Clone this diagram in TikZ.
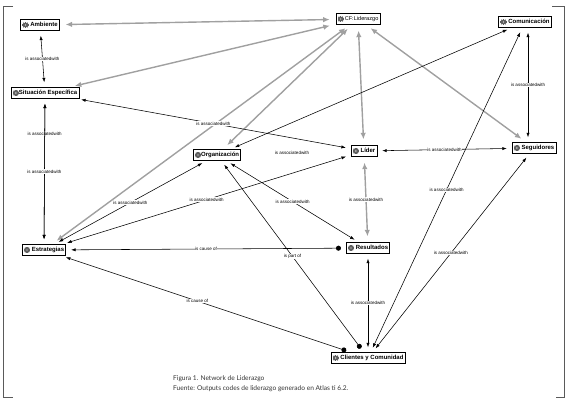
\documentclass[tikz,border=0pt]{standalone}
\usepackage{fontspec}
\setmainfont{Liberation Sans}
\newfontfamily\capfont{Lato}
\usetikzlibrary{arrows.meta}
\definecolor{framegray}{RGB}{90,90,90}
\definecolor{linkgray}{RGB}{160,160,160}
\definecolor{geargray}{RGB}{95,95,95}
% small gear drawn in front of every code
\newcommand{\gearicon}{\tikz[baseline=-1.9pt]{%
  \fill[geargray] (0pt,0pt) circle (2.3pt);
  \foreach \a in {0,45,...,315}
    \fill[geargray, rotate=\a] (-0.7pt,1.6pt) rectangle (0.7pt,3.1pt);
  \fill[white] (0pt,0pt) circle (0.7pt);}}
\tikzset{
  codebox/.style={draw, line width=0.7pt, fill=white, inner xsep=1.6pt, inner ysep=2.2pt,
    font=\fontsize{6}{7}\selectfont\bfseries},
  lbl/.style={fill=white, inner sep=0.6pt, font=\fontsize{4.5}{5}\selectfont},
  blk/.style={draw=black, line width=0.55pt, shorten <=5pt, shorten >=5pt,
    {Latex[length=4.5pt,width=3.2pt]}-{Latex[length=4.5pt,width=3.2pt]}},
  gry/.style={draw=linkgray, line width=1.4pt, shorten <=6pt, shorten >=6pt,
    {Latex[length=6.5pt,width=5.5pt]}-{Latex[length=6.5pt,width=5.5pt]}},
  cause/.style={draw=black, line width=0.55pt, shorten <=5pt, shorten >=5pt,
    {Circle[length=5pt]}-{Latex[length=4.5pt,width=3.2pt]}}
}
\begin{document}
\begin{tikzpicture}[x=1pt,y=-1pt]
  \useasboundingbox (0,0) rectangle (569,409);
  % frame
  \draw[framegray, line width=0.7pt] (13,6) -- (3,6) -- (3,397) -- (13,397);
  \draw[framegray, line width=0.7pt] (552,6) -- (564,6) -- (564,397) -- (556,397);

  % codes
  \node[codebox] (amb) at (40,25) {\gearicon\ Ambiente};
  \node[codebox] (sit) at (45,93) {\gearicon Situación Específica};
  \node[codebox, font=\fontsize{5.6}{7}\selectfont] (cfl) at (358,19) {\gearicon\,CF:Liderazgo};
  \node[codebox] (com) at (525,22) {\gearicon\ Comunicación};
  \node[codebox] (seg) at (534,148) {\gearicon\ Seguidores};
  \node[codebox] (org) at (217,155) {\gearicon Organización};
  \node[codebox] (lid) at (364,151) {\gearicon\ Líder};
  \node[codebox] (res) at (368,248) {\gearicon\ Resultados};
  \node[codebox] (est) at (44,250) {\gearicon\ Estrategias};
  \node[codebox] (cli) at (368,358) {\gearicon\ Clientes y Comunidad};

  % links to the family
  \draw[gry] (cfl) -- (amb);
  \draw[gry] (cfl) -- (sit);
  \draw[gry] (cfl) -- (est);
  \draw[gry] (cfl) -- (org);
  \draw[gry] (cfl) -- (lid);
  \draw[gry] (cfl) -- (seg);
  \draw[gry] (lid) -- node[lbl] {is associatedwith} (res);

  % relations
  \draw[blk] (amb) -- node[lbl] {is associatedwith} (sit);
  \draw[blk] (sit) -- node[lbl, pos=0.24] {is associatedwith} (est);
  \draw[blk] (est) -- node[lbl, pos=0.5] {is associatedwith} (sit);
  \draw[blk] (sit) -- node[lbl] {is associatedwith} (lid);
  \draw[blk] (com) -- (org);
  \draw[blk] (org) -- node[lbl] {is associatedwith} (est);
  \draw[blk] (lid) -- node[lbl] {is associatedwith} (est);
  \draw[blk] (org) -- node[lbl] {is associatedwith} (res);
  \draw[blk] (lid) -- node[lbl] {is associatedwith} (seg);
  \draw[blk] ([xshift=3pt]com.south) -- node[lbl] {is associatedwith} ([xshift=-6pt]seg.north);
  \draw[blk] (cli) -- node[lbl] {is associatedwith} (com);
  \draw[blk] (cli) -- node[lbl] {is associatedwith} (seg);
  \draw[blk] (res) -- node[lbl] {is associatedwith} (cli);
  \draw[cause] (res) -- node[lbl] {is cause of} (est);
  \draw[cause] (cli) -- node[lbl, pos=0.53] {is cause of} (est);
  \draw[cause] (cli) -- node[lbl] {is part of} (org);
  \node[lbl] (free) at (292,153) {is associatedwith};

  % caption
  \node[anchor=north west, align=left, inner sep=0pt, text=black!80,
    font=\capfont\fontsize{6.6}{10}\selectfont] (cap) at (173,375)
    {Figura 1. Network de Liderazgo\\
     Fuente: Outputs codes de liderazgo generado en Atlas ti 6.2.};
\end{tikzpicture}
\end{document}
